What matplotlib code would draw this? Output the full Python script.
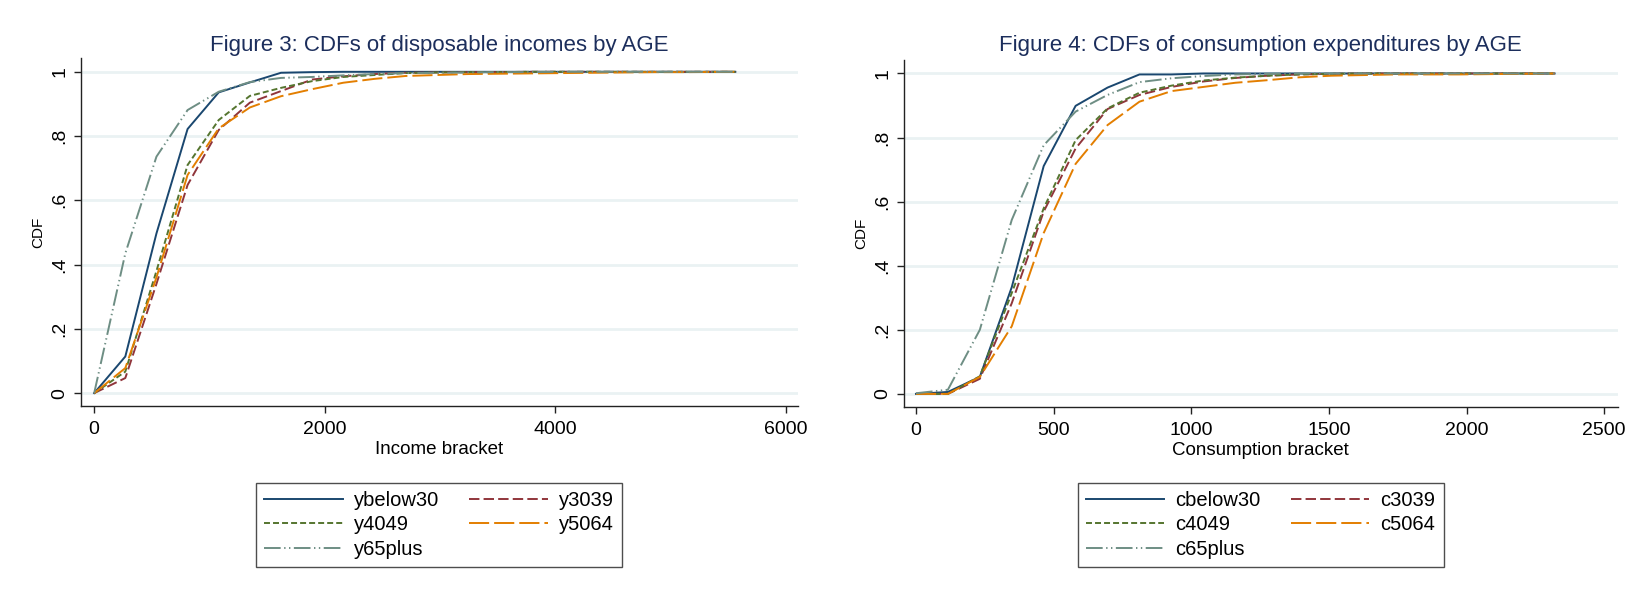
import matplotlib
matplotlib.use("Agg")
import matplotlib.pyplot as plt

plt.rcParams['font.family'] = ['Liberation Sans', 'DejaVu Sans']
plt.rcParams['lines.scale_dashes'] = False

# income brackets (Figure 3)
income_x = [0, 270, 540, 810, 1080, 1350, 1620, 1890, 2160, 2430, 2700,
            2970, 3240, 3510, 3780, 4050, 4320, 4590, 4860, 5130, 5560]
ybelow30 = [0, .114, .497, .822, .936, .967, .997, .999, 1, 1, 1,
            1, 1, 1, 1, 1, 1, 1, 1, 1, 1]
y3039 = [0, .047, .34, .648, .819, .904, .94, .976, .986, .993, .997,
         .998, .999, .999, 1, 1, 1, 1, 1, 1, 1]
y4049 = [0, .067, .38, .71, .85, .925, .95, .971, .984, .99, .996,
         .998, .999, .999, 1, 1, 1, 1, 1, 1, 1]
y5064 = [0, .078, .36, .679, .824, .889, .924, .946, .966, .978, .987,
         .99, .993, .994, .995, .996, .997, .998, .999, .999, 1]
y65plus = [0, .435, .736, .881, .938, .968, .981, .984, .989, .993, .996,
           .997, .998, .999, .999, 1, 1, 1, 1, 1, 1]

# consumption brackets (Figure 4)
cons_x = [0, 116, 232, 348, 464, 580, 696, 812, 928, 1044, 1160,
          1276, 1392, 1508, 1624, 1740, 1856, 1972, 2088, 2204, 2320]
cbelow30 = [0, .006, .053, .333, .711, .899, .956, .997, .997, 1, 1,
            1, 1, 1, 1, 1, 1, 1, 1, 1, 1]
c3039 = [0, 0, .047, .283, .569, .766, .889, .933, .958, .975, .986,
         .993, .997, .999, 1, 1, 1, 1, 1, 1, 1]
c4049 = [0, 0, .055, .315, .579, .792, .891, .94, .962, .978, .987,
         .993, .997, .999, 1, 1, 1, 1, 1, 1, 1]
c5064 = [0, 0, .053, .211, .502, .718, .839, .912, .945, .958, .971,
         .979, .988, .993, .995, .997, .997, .997, .998, .999, 1]
c65plus = [.002, .013, .2, .543, .776, .881, .933, .973, .985, .992, .997,
           .999, 1, 1, 1, 1, 1, 1, 1, 1, 1]

yticks = [0, .2, .4, .6, .8, 1]
ytick_labels = ['0', '.2', '.4', '.6', '.8', '1']

colors = ['#1a476f', '#90353b', '#55752f', '#e37e00', '#6e8e84']
dashes = [None, (7.5, 3), (4.3, 2.2), (14.5, 3.6), (12, 2.5, 1, 2.5, 1, 2.5)]

fig = plt.figure(figsize=(16.31, 5.89), dpi=100)
ax1 = fig.add_axes([0.0494, 0.3107, 0.4397, 0.5903])
ax2 = fig.add_axes([0.554, 0.3095, 0.4378, 0.5886])


def draw(ax, x, series, names, xlim, xticks, xlabel, title, legend_x):
    handles = []
    for s, name, c, d in zip(series, names, colors, dashes):
        line, = ax.plot(x, s, color=c, lw=1.4, label=name)
        if d is not None:
            line.set_dashes(d)
        handles.append(line)
    ax.set_xlim(xlim)
    ax.set_ylim(-0.04, 1.042)
    ax.set_xticks(xticks)
    ax.set_xticklabels([str(t) for t in xticks])
    ax.set_yticks(yticks)
    ax.set_yticklabels(ytick_labels, rotation=90, va='center')
    ax.grid(axis='y', color='#eaf2f3', lw=2)
    ax.set_axisbelow(True)
    for sp in ['top', 'right']:
        ax.spines[sp].set_visible(False)
    for sp in ['left', 'bottom']:
        ax.spines[sp].set_color('#222222')
        ax.spines[sp].set_linewidth(1)
    ax.tick_params(axis='both', labelsize=14, length=5, width=1, color='#222222')
    ax.tick_params(axis='x', pad=6)
    ax.tick_params(axis='y', pad=4)
    ax.set_xlabel(xlabel, fontsize=13.5, labelpad=2)
    ax.set_ylabel('CDF', fontsize=11, labelpad=4)
    pos = ax.get_position()
    fig.text(pos.x0 + pos.width / 2, 1 - 51 / 589, title, ha='center', va='baseline',
             fontsize=16, color='#1c2e5c')
    # stata fills the legend row by row
    order = [0, 2, 4, 1, 3]
    leg = fig.legend([handles[i] for i in order], [names[i] for i in order],
                     loc='upper center', bbox_to_anchor=(legend_x, 0.1974), ncol=2,
                     fontsize=14.5, frameon=True, fancybox=False, edgecolor='#222222',
                     handlelength=3.9, handletextpad=0.55, columnspacing=1.5,
                     labelspacing=0.28, borderpad=0.4)
    leg.get_frame().set_linewidth(1)


draw(ax1, income_x, [ybelow30, y3039, y4049, y5064, y65plus],
     ['ybelow30', 'y3039', 'y4049', 'y5064', 'y65plus'],
     (-118, 6101), [0, 2000, 4000, 6000], 'Income bracket',
     'Figure 3: CDFs of disposable incomes by AGE', 439 / 1631)
draw(ax2, cons_x, [cbelow30, c3039, c4049, c5064, c65plus],
     ['cbelow30', 'c3039', 'c4049', 'c5064', 'c65plus'],
     (-45, 2549), [0, 500, 1000, 1500, 2000, 2500], 'Consumption bracket',
     'Figure 4: CDFs of consumption expenditures by AGE', 1260.7 / 1631)

fig.savefig('out.png', dpi=100)
